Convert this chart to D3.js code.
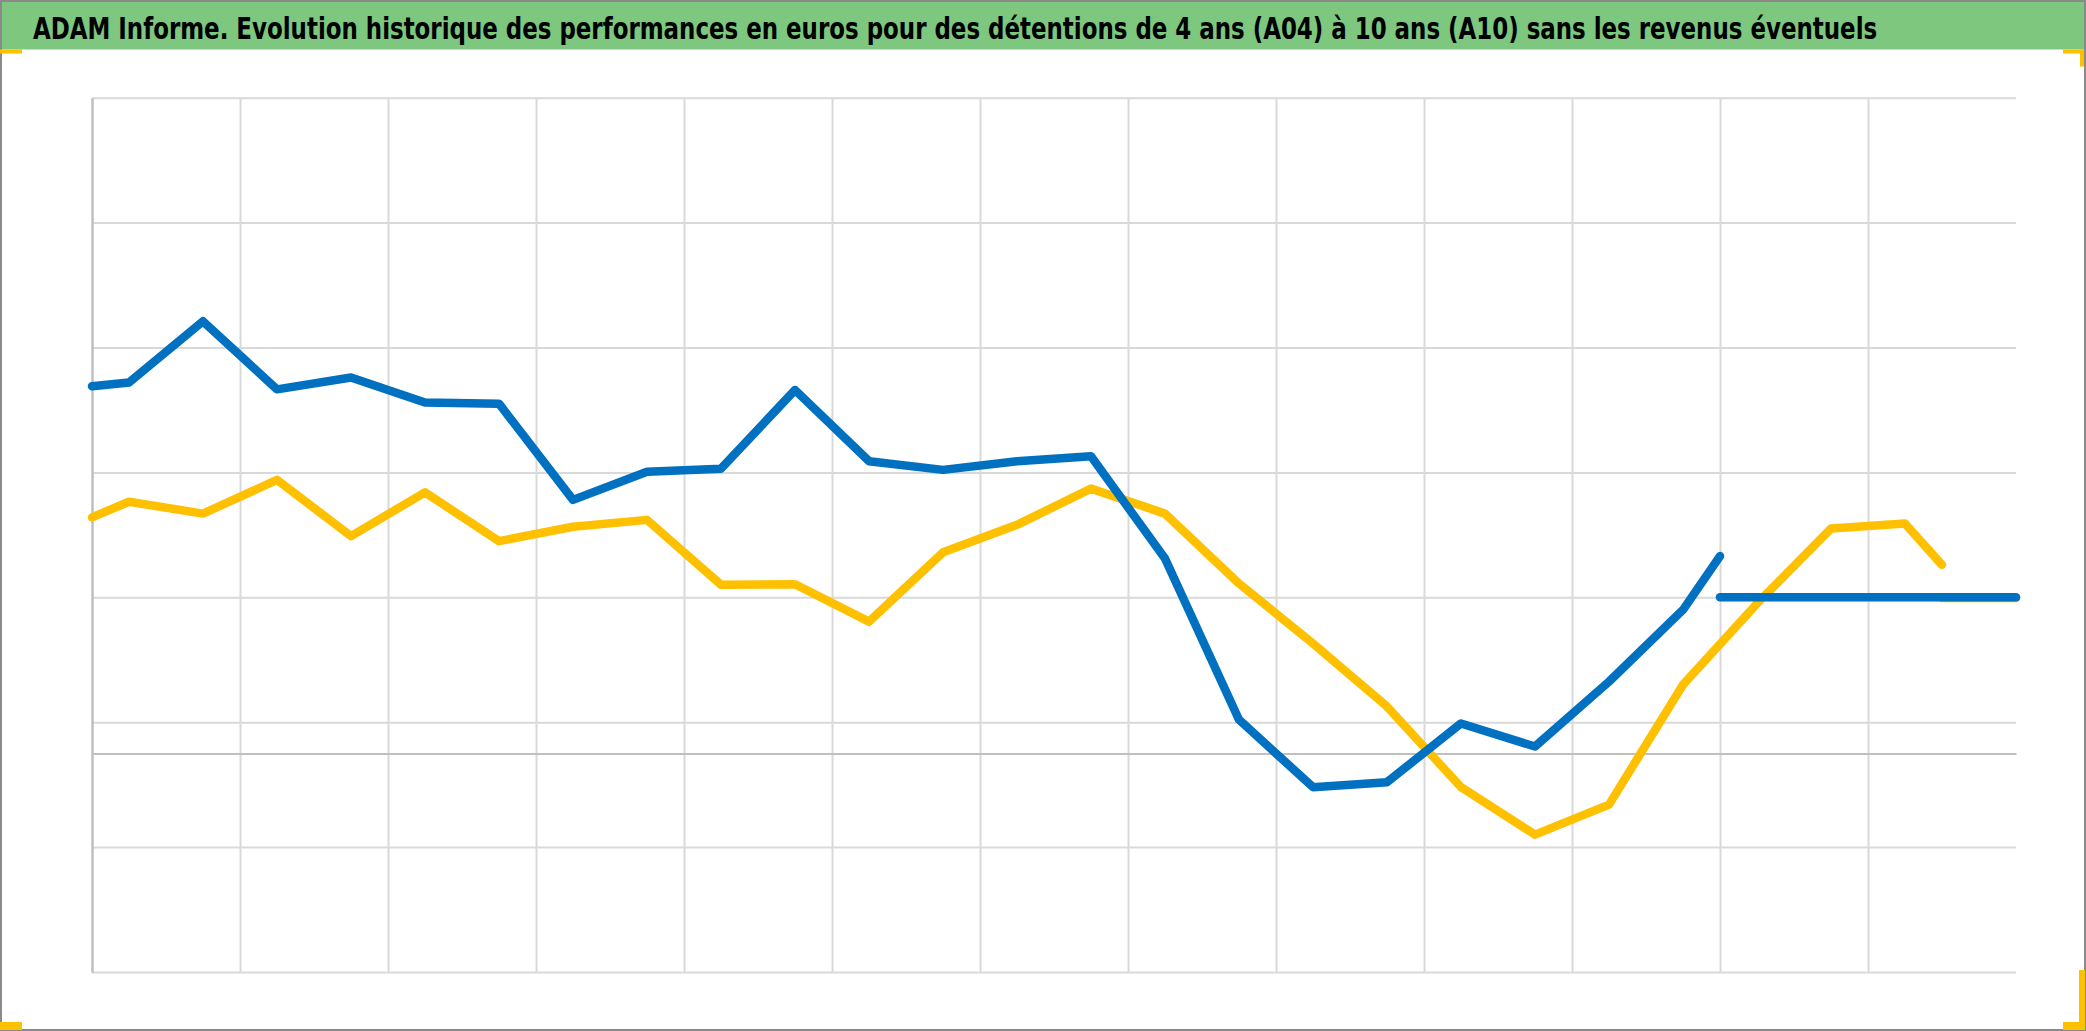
<!DOCTYPE html>
<html>
<head>
<meta charset="utf-8">
<script src="https://cdn.jsdelivr.net/npm/d3@7"></script>
<style>
  html, body { margin: 0; padding: 0; background: #ffffff; }
  svg { display: block; }
</style>
</head>
<body>
<svg id="chart" width="2086" height="1031"></svg>
<script>
// ---- Data ----
const titleText = "ADAM Informe. Evolution historique des performances en euros pour des détentions de 4 ans (A04) à 10 ans (A10) sans les revenus éventuels";

// x positions are quarter indices (0 .. 52); vertical gridlines every 4 quarters
const blueQuarters = [0, 1, 3, 5, 7, 9, 11, 13, 15, 17, 19, 21, 23, 25, 27, 29, 31, 33, 35, 37, 39, 41, 43, 44];
const blueValues   = [29.4, 29.7, 34.6, 29.15, 30.1, 28.1, 28.0, 20.3, 22.55, 22.8, 29.1, 23.4, 22.7, 23.4, 23.8, 15.6, 2.7, -2.7, -2.3, 2.4, 0.55, 5.75, 11.5, 15.8];

const yellowQuarters = [0, 1, 3, 5, 7, 9, 11, 13, 15, 17, 19, 21, 23, 25, 27, 29, 31, 33, 35, 37, 39, 41, 43, 45, 47, 49, 50];
const yellowValues   = [18.9, 20.15, 19.2, 21.9, 17.4, 20.9, 17.0, 18.15, 18.7, 13.5, 13.55, 10.55, 16.1, 18.3, 21.2, 19.2, 13.6, 8.8, 3.75, -2.7, -6.5, -4.1, 5.5, 12.0, 18.0, 18.4, 15.1];

const blueFlatQuarters = [44, 52];
const blueFlatValues   = [12.5, 12.5];
const yellowFlatQuarters = [50, 52];
const yellowFlatValues   = [12.44, 12.44];

const yGridValues = [-17.5, -7.5, 2.5, 12.5, 22.5, 32.5, 42.5, 52.5];
const xGridQuarters = [4, 8, 12, 16, 20, 24, 28, 32, 36, 40, 44, 48];

// ---- Layout ----
const W = 2086, H = 1031;
const plot = { left: 92, right: 2016, top: 97.7, bottom: 972 };

const svg = d3.select("#chart");

const x = d3.scaleLinear().domain([0, 52]).range([plot.left, plot.right]);
const y = d3.scaleLinear().domain([-17.5, 52.5]).range([plot.bottom, plot.top]);

// background
svg.append("rect").attr("x", 0).attr("y", 0).attr("width", W).attr("height", H).attr("fill", "#ffffff");

// title bar
svg.append("rect").attr("x", 0).attr("y", 0).attr("width", 2084).attr("height", 49.5).attr("fill", "#7dc77e");

// title: fit the natural width to the target, then stretch vertically
const targetWidth = 1845, targetSize = 30;
const title = svg.append("text")
  .attr("x", 0).attr("y", 0)
  .attr("font-family", "'Liberation Sans Narrow', 'DejaVu Sans Condensed', 'Liberation Sans', sans-serif")
  .attr("font-weight", "bold")
  .attr("font-size", targetSize)
  .attr("fill", "#000000")
  .text(titleText);
const natural = title.node().getComputedTextLength();
const fitSize = targetSize * targetWidth / natural;
title.attr("font-size", fitSize)
  .attr("transform", `translate(33,38.5) scale(1,${targetSize / fitSize})`);

// outer frame
svg.append("rect").attr("x", 1).attr("y", 1).attr("width", 2084).attr("height", 1029)
  .attr("fill", "none").attr("stroke", "#8a8a8a").attr("stroke-width", 2);

// yellow corner marks
const corner = svg.append("g").attr("fill", "#ffc000");
corner.append("rect").attr("x", 0).attr("y", 49.5).attr("width", 22).attr("height", 4);
corner.append("rect").attr("x", 2063).attr("y", 49.5).attr("width", 21).attr("height", 4);
corner.append("rect").attr("x", 2080).attr("y", 49.5).attr("width", 4).attr("height", 17);
corner.append("rect").attr("x", 0).attr("y", 1022).attr("width", 22).attr("height", 8);
corner.append("rect").attr("x", 2063).attr("y", 1022).attr("width", 22).attr("height", 8);
corner.append("rect").attr("x", 2079).attr("y", 970).attr("width", 6).attr("height", 60);

// horizontal gridlines
const yGrid = svg.append("g").attr("transform", `translate(${plot.left},0)`)
  .call(d3.axisLeft(y).tickValues(yGridValues).tickSize(-(plot.right - plot.left)).tickFormat(""));
yGrid.select(".domain").remove();
yGrid.selectAll(".tick line").attr("stroke", "#d9d9d9").attr("stroke-width", 2);

// vertical gridlines
const xGrid = svg.append("g").attr("transform", `translate(0,${plot.bottom})`)
  .call(d3.axisBottom(x).tickValues(xGridQuarters).tickSize(-(plot.bottom - plot.top)).tickFormat(""));
xGrid.select(".domain").remove();
xGrid.selectAll(".tick line").attr("stroke", "#d9d9d9").attr("stroke-width", 2);

// vertical axis line (left)
const yAxis = svg.append("g").attr("transform", `translate(${plot.left},0)`)
  .call(d3.axisLeft(y).tickValues([]).tickSizeOuter(0));
yAxis.select(".domain").attr("stroke", "#bfbfbf").attr("stroke-width", 2.5);

// horizontal category axis at 0
const xAxis = svg.append("g").attr("transform", `translate(0,${y(0)})`)
  .call(d3.axisBottom(x).tickValues([]).tickSizeOuter(0));
xAxis.select(".domain").attr("stroke", "#bfbfbf").attr("stroke-width", 2);

// lines
const line = d3.line().x(d => x(d[0])).y(d => y(d[1]));
function drawSeries(qs, vs, color) {
  const data = qs.map((q, i) => [q, vs[i]]);
  svg.append("path")
    .datum(data)
    .attr("d", line)
    .attr("fill", "none")
    .attr("stroke", color)
    .attr("stroke-width", 8.5)
    .attr("stroke-linejoin", "round")
    .attr("stroke-linecap", "round");
}
drawSeries(yellowQuarters, yellowValues, "#ffc000");
drawSeries(yellowFlatQuarters, yellowFlatValues, "#ffc000");
drawSeries(blueQuarters, blueValues, "#0070c0");
drawSeries(blueFlatQuarters, blueFlatValues, "#0070c0");
</script>
</body>
</html>
